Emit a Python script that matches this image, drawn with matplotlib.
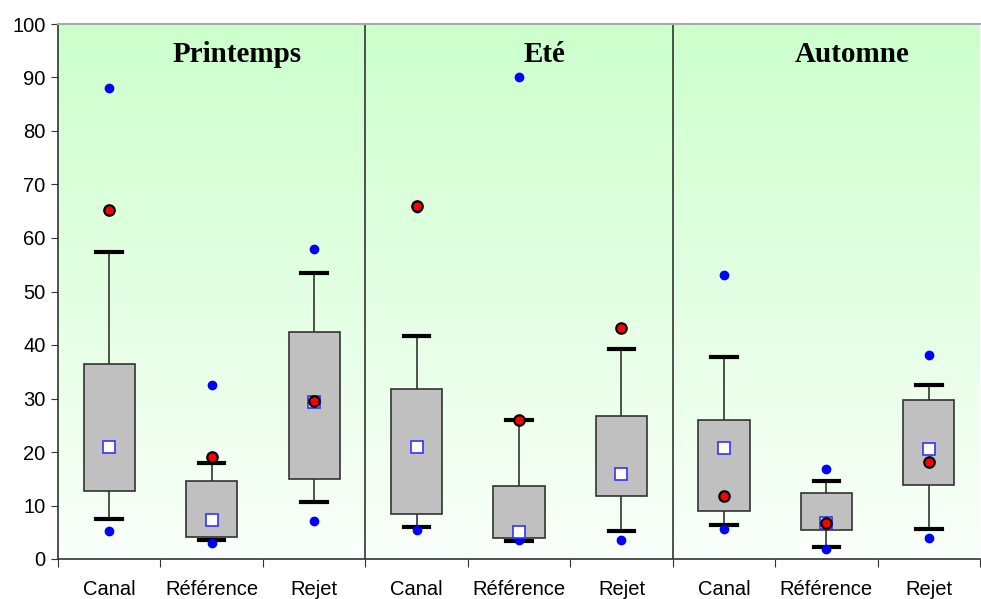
import matplotlib.pyplot as plt
import numpy as np

# --- data ---
seasons = ["Printemps", "Eté", "Automne"]
sites = ["Canal", "Référence", "Rejet"]

# order: Printemps (Canal, Ref, Rejet), Eté (...), Automne (...)
box_low = [12.7, 4.2, 15.0, 8.5, 4.0, 11.7, 9.0, 5.4, 13.8]
box_high = [36.5, 14.5, 42.5, 31.8, 13.6, 26.7, 26.0, 12.3, 29.7]
whisk_low = [7.5, 3.6, 10.6, 5.9, 3.4, 5.2, 6.3, 2.2, 5.7]
whisk_high = [57.3, 18.0, 53.5, 41.7, 26.0, 39.2, 37.8, 14.6, 32.6]
val_min = [5.2, 3.0, 7.1, 5.4, 3.5, 3.6, 5.7, 1.8, 4.0]
val_max = [88.0, 32.5, 58.0, 65.7, 90.0, 43.2, 53.0, 16.9, 38.2]
squares = [21.0, 7.3, 29.3, 21.0, 5.1, 15.8, 20.8, 6.7, 20.6]
reds = [65.3, 19.0, 29.6, 65.9, 26.0, 43.1, 11.8, 6.7, 18.2]

plt.rcParams['font.family'] = ['Liberation Sans', 'DejaVu Sans']

fig = plt.figure(figsize=(9.81, 5.99), dpi=100)
ax = fig.add_axes([58 / 981, 40 / 599, 922 / 981, 535 / 599])

n = len(box_low)
x = np.arange(n)
ax.set_xlim(-0.5, n - 0.5)
ax.set_ylim(0, 100)

# green gradient background
grad = np.linspace(0, 1, 256).reshape(-1, 1)
top = np.array([204, 255, 204]) / 255
bot = np.array([250, 255, 250]) / 255
img = bot + (top - bot) * grad[..., None]
ax.imshow(img, extent=[-0.5, n - 0.5, 0, 100], origin='lower', aspect='auto', zorder=0)

bw = 0.5
cw = 0.25
for i in range(n):
    ax.plot([x[i], x[i]], [whisk_low[i], box_low[i]], color='#333333', lw=1.2, zorder=2)
    ax.plot([x[i], x[i]], [box_high[i], whisk_high[i]], color='#333333', lw=1.2, zorder=2)
    ax.plot([x[i] - cw / 2, x[i] + cw / 2], [whisk_low[i]] * 2, color='black', lw=3, zorder=2)
    ax.plot([x[i] - cw / 2, x[i] + cw / 2], [whisk_high[i]] * 2, color='black', lw=3, zorder=2)
    ax.add_patch(plt.Rectangle((x[i] - bw / 2, box_low[i]), bw, box_high[i] - box_low[i],
                               facecolor='#c0c0c0', edgecolor='#333333', lw=1.2, zorder=3))

ax.plot(x, val_min, 'o', color='#0000ff', ms=6, mec='#0000ff', zorder=4)
ax.plot(x, val_max, 'o', color='#0000ff', ms=6, mec='#0000ff', zorder=4)
ax.plot(x, squares, 's', mfc='white', mec='#3333ff', mew=1.2, ms=9, zorder=5)
ax.plot(x, reds, 'o', mfc='#ff0000', mec='black', mew=1.6, ms=7.5, zorder=6)

# season separators and titles
for k in range(1, len(seasons)):
    ax.axvline(3 * k - 0.5, color='#333333', lw=1.2, zorder=1)
for k, s in enumerate(seasons):
    ax.text(3 * k + 1.25, 94.3, s, ha='center', va='center', fontsize=21,
            fontweight='bold', family='Liberation Serif', zorder=7)

ax.set_yticks(np.arange(0, 101, 10))
ax.set_xticks(np.arange(-0.5, n, 1))
ax.set_xticklabels([])
ax.set_xticks(x, minor=True)
ax.set_xticklabels(sites * 3, minor=True)
ax.tick_params(axis='x', which='major', direction='out', length=6, color='#333333')
ax.tick_params(axis='x', which='minor', length=0, pad=15, labelsize=14.5)
ax.tick_params(axis='y', direction='out', length=5, color='#333333', labelsize=14.5, pad=4)

for side in ['left', 'bottom']:
    ax.spines[side].set_color('#333333')
    ax.spines[side].set_linewidth(1.2)
ax.spines['top'].set_color('#aaaaaa')
ax.spines['top'].set_linewidth(1.5)
ax.spines['right'].set_visible(False)

fig.savefig('out.png', dpi=100)
